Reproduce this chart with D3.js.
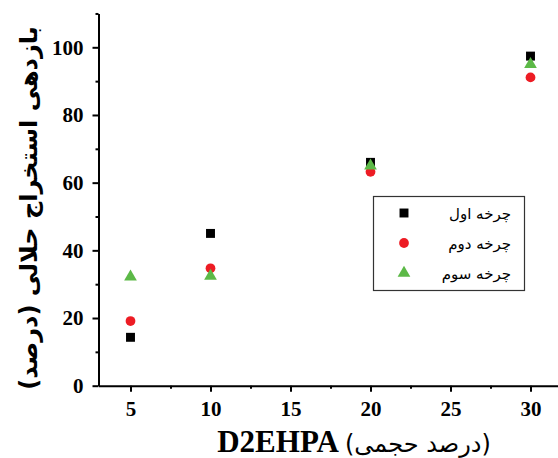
<!DOCTYPE html>
<html>
<head>
<meta charset="utf-8">
<script src="https://cdn.jsdelivr.net/npm/d3@7"></script>
<style>
  html, body { margin: 0; padding: 0; background: #fff; }
  svg { display: block; }
  .tick text { font-family: "Liberation Serif", "Times New Roman", serif; font-weight: bold; font-size: 21px; fill: #000; }
  .fa { font-family: "DejaVu Sans", sans-serif; }
</style>
</head>
<body>
<svg id="chart" width="558" height="458"></svg>
<script>
// Extraction efficiency (%) vs D2EHPA concentration (vol %) over three cycles
const concentrations = [5, 10, 20, 30];
const cycle1 = [14.3, 45.0, 66.0, 97.4];
const cycle2 = [19.1, 34.7, 63.2, 91.1];
const cycle3 = [32.2, 32.4, 65.0, 95.0];
const seriesNames = ["چرخه اول", "چرخه دوم", "چرخه سوم"];
const xTicks = [5, 10, 15, 20, 25, 30];
const yTicks = [0, 20, 40, 60, 80, 100];

const series = [
  { name: seriesNames[0], values: cycle1, shape: d3.symbolSquare, color: "#000000", size: 80 },
  { name: seriesNames[1], values: cycle2, shape: d3.symbolCircle, color: "#ed1c24", size: 75 },
  { name: seriesNames[2], values: cycle3, shape: d3.symbolTriangle, color: "#5cb947", size: 70 }
];

const svg = d3.select("#chart");
const left = 98.5, bottom = 385.7;

const x = d3.scaleLinear().domain([3, 32]).range([left, left + 29 * 16]);
const y = d3.scaleLinear().domain([0, 110]).range([bottom, bottom - 110 * 3.384]);

// x axis: major ticks with labels, minor ticks in between
svg.append("g").attr("transform", `translate(0,${bottom})`)
  .call(d3.axisBottom(x).tickValues(xTicks).tickSize(6).tickPadding(9).tickSizeOuter(0).tickFormat(d3.format("d")));
svg.append("g").attr("transform", `translate(0,${bottom})`)
  .call(d3.axisBottom(x).tickValues([7.5, 12.5, 17.5, 22.5, 27.5]).tickSize(3).tickSizeOuter(0).tickFormat(""))
  .select(".domain").remove();

// y axis: majors every 20, minors every 10
svg.append("g").attr("transform", `translate(${left},0)`)
  .call(d3.axisLeft(y).tickValues(yTicks).tickSize(6).tickPadding(9).tickSizeOuter(0).tickFormat(d3.format("d")));
svg.append("g").attr("transform", `translate(${left},0)`)
  .call(d3.axisLeft(y).tickValues([10, 30, 50, 70, 90, 110]).tickSize(3).tickSizeOuter(0).tickFormat(""))
  .select(".domain").remove();

svg.selectAll(".domain, .tick line").attr("stroke", "#000").attr("stroke-width", 2);

// markers
series.forEach(s => {
  svg.append("g").selectAll("path")
    .data(concentrations.map((c, i) => [c, s.values[i]]))
    .join("path")
    .attr("transform", d => `translate(${x(d[0])},${y(d[1])})`)
    .attr("d", d3.symbol().type(s.shape).size(s.size))
    .attr("fill", s.color);
});

// legend
const legend = svg.append("g");
legend.append("rect")
  .attr("x", 373.5).attr("y", 196.5).attr("width", 151).attr("height", 94)
  .attr("fill", "#fff").attr("stroke", "#333").attr("stroke-width", 1.2);
series.forEach((s, i) => {
  const ry = 213 + i * 30;
  legend.append("path")
    .attr("transform", `translate(404,${ry})`)
    .attr("d", d3.symbol().type(s.shape).size(s.size))
    .attr("fill", s.color);
  legend.append("text")
    .attr("class", "fa")
    .attr("x", 511).attr("y", ry + 6)
    .attr("text-anchor", "end")
    .attr("font-size", 15)
    .text(s.name);
});

// axis titles
svg.append("text")
  .attr("class", "fa")
  .attr("transform", "translate(37,208) rotate(-90)")
  .attr("text-anchor", "middle")
  .attr("font-size", 24)
  .attr("font-weight", "bold")
  .text("بازدهی استخراج حلالی (درصد)");

const xt = svg.append("text")
  .attr("x", 354).attr("y", 452)
  .attr("text-anchor", "middle");
xt.append("tspan")
  .attr("font-family", "Liberation Serif, serif").attr("font-weight", "bold").attr("font-size", 31)
  .text("D2EHPA ");
xt.append("tspan")
  .attr("class", "fa").attr("font-size", 24)
  .text("(درصد حجمی)");
</script>
</body>
</html>
